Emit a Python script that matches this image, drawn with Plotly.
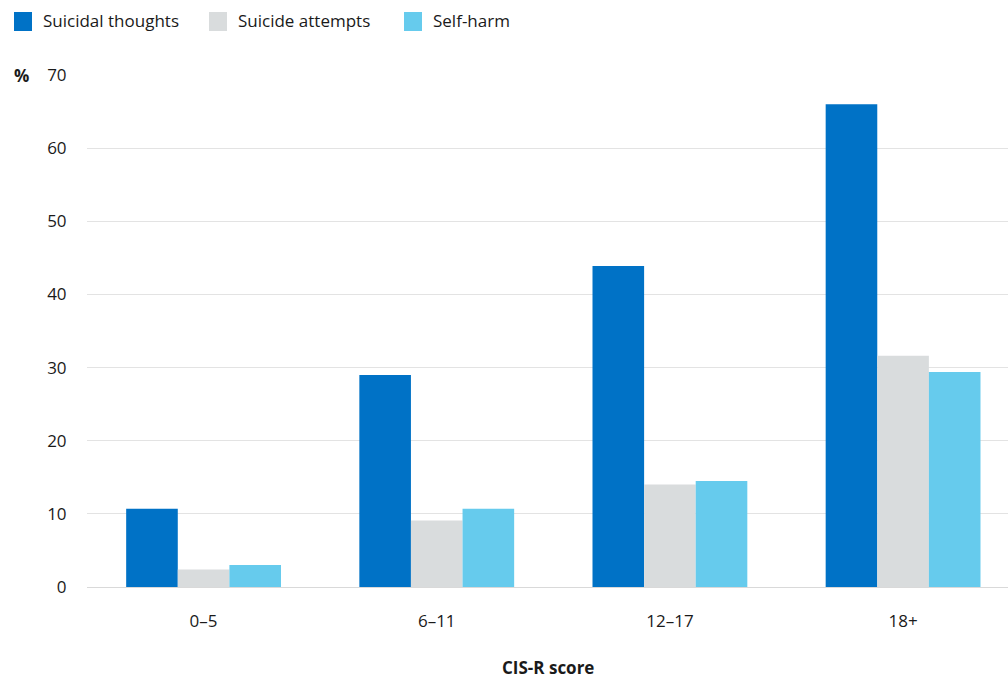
import plotly.graph_objects as go

categories = ["0–5", "6–11", "12–17", "18+"]
suicidal_thoughts = [10.7, 29.0, 43.9, 66.0]
suicide_attempts = [2.4, 9.1, 14.0, 31.6]
self_harm = [3.0, 10.7, 14.5, 29.4]

series_names = ["Suicidal thoughts", "Suicide attempts", "Self-harm"]
colors = ["#0072C6", "#D9DCDD", "#66CBED"]
y_ticks = [0, 10, 20, 30, 40, 50, 60, 70]

W, H = 1008, 678
L, R, T, B = 87, 0, 75, 91
FONT = "Open Sans"
TXT = "#1a1a1a"

fig = go.Figure()
for name, vals, col in zip(series_names, [suicidal_thoughts, suicide_attempts, self_harm], colors):
    fig.add_trace(go.Bar(x=categories, y=vals, name=name, marker=dict(color=col, line=dict(width=0)),
                         showlegend=False, hoverinfo="skip"))

fig.update_layout(
    width=W, height=H,
    margin=dict(l=L, r=R, t=T, b=B, pad=0),
    paper_bgcolor="white", plot_bgcolor="white",
    barmode="group", bargap=0.336, bargroupgap=0,
    font=dict(family=FONT, size=17, color=TXT),
    xaxis=dict(range=[-0.5, 3.45], showgrid=False, showline=False, zeroline=False,
               ticks="outside", ticklen=0, ticklabelstandoff=19,
               tickfont=dict(family=FONT, size=17, color=TXT)),
    yaxis=dict(range=[0, 70], tickvals=y_ticks, showgrid=True, gridcolor="#e3e3e3", gridwidth=1,
               zeroline=True, zerolinecolor="#d9d9d9", zerolinewidth=1, showline=False,
               ticks="outside", ticklen=0, ticklabelstandoff=16,
               tickfont=dict(family=FONT, size=17, color=TXT)),
)

# y-axis unit label and x-axis title
fig.add_annotation(xref="paper", yref="paper", x=-(L - 12) / (W - L - R), y=1.0, xanchor="left", yanchor="middle",
                   text="<b>%</b>", showarrow=False, font=dict(family=FONT, size=17, color=TXT))
fig.add_annotation(xref="paper", yref="paper", x=0.5, y=-(667 - (H - B)) / (H - T - B), xanchor="center",
                   yanchor="middle", text="<b>CIS-R score</b>", showarrow=False,
                   font=dict(family=FONT, size=17, color=TXT))

# custom legend
plot_w = W - L - R
plot_h = H - T - B
def px_x(x):
    return (x - L) / plot_w
def px_y(y):
    return (H - B - y) / plot_h

legend_x = [14, 209, 404]
for lx, name, col in zip(legend_x, series_names, colors):
    fig.add_shape(type="rect", xref="paper", yref="paper",
                  x0=px_x(lx), x1=px_x(lx + 18), y0=px_y(31), y1=px_y(12),
                  fillcolor=col, line=dict(width=0))
    fig.add_annotation(xref="paper", yref="paper", x=px_x(lx + 27), y=px_y(20.5), xanchor="left",
                       yanchor="middle", text=name, showarrow=False,
                       font=dict(family=FONT, size=17, color=TXT))

fig.write_html("out.html", config={"displayModeBar": False},
               post_script="document.body.style.margin='0px';document.body.style.overflow='hidden';")
